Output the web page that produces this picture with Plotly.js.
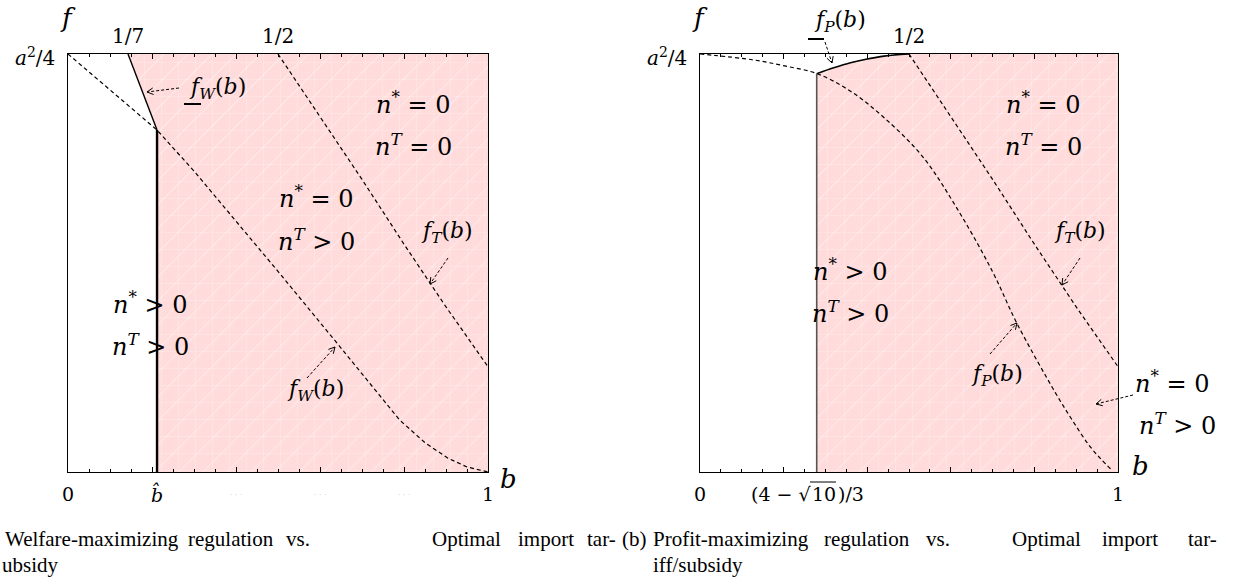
<!DOCTYPE html>
<html>
<head>
<meta charset="utf-8">
<script src="https://cdn.plot.ly/plotly-3.0.1.min.js"></script>
<style>
  html, body { margin: 0; padding: 0; background: #ffffff; }
  #chart { width: 1236px; height: 585px; }
</style>
</head>
<body>
<div id="chart"></div>
<script>
// ---------- panel (a): welfare-maximizing regulation ----------
// threshold b-hat where the regulation boundary meets f_W
const bHat = 0.212;
// lower bound of the regulation region, f_W underbar (from 1/7 at the top down to b-hat)
const fwLowB = [1 / 7, bHat];
const fwLowF = [1, 0.818];
// welfare threshold curve f_W(b)
const fwB = [0, 0.1, 0.212, 0.3, 0.4, 0.5, 0.64, 0.72, 0.79, 0.85, 0.905, 0.95, 1];
const fwF = [1, 0.915, 0.818, 0.72, 0.6, 0.48, 0.309, 0.21, 0.124, 0.07, 0.033, 0.012, 0];
// tariff threshold curve f_T(b) (same in both panels)
const ftB = [0.5, 0.6, 0.7, 0.8, 0.9, 1];
const ftF = [1, 0.85, 0.70, 0.545, 0.395, 0.252];

// ---------- panel (b): profit-maximizing regulation ----------
// threshold (4 - sqrt(10)) / 3
const bZero = 0.2792;
// profit threshold curve f_P(b)
const fpB = [0, 0.127, 0.2, 0.28, 0.36, 0.44, 0.533, 0.62, 0.70, 0.758, 0.85, 0.89, 0.93, 0.96, 0.985];
const fpF = [1, 0.986, 0.972, 0.953, 0.911, 0.848, 0.754, 0.622, 0.479, 0.356, 0.19, 0.125, 0.065, 0.03, 0.005];
// lower bound of the regulation region, f_P underbar (rises to the top at b = 1/2)
const fpLowB = [0.2792, 0.32, 0.36, 0.40, 0.44, 0.48, 0.5];
const fpLowF = [0.953, 0.967, 0.979, 0.988, 0.995, 0.999, 1];

// ---------- text ----------
const topTicksA = [{ b: 1 / 7, t: '1/7' }, { b: 0.5, t: '1/2' }];
const topTicksB = [{ b: 0.5, t: '1/2' }];
const bottomTicksA = [{ b: 0, t: '0' }, { b: bHat, t: '<i>b\u0302</i>' }, { b: 1, t: '1' }];
const bottomTicksB = [{ b: 0, t: '0' }, { b: 1, t: '1' }];
const bZeroLabel = ['(4 \u2212 \u221A', '10', ')/3'];
const captionA1 = ['Welfare-maximizing', 'regulation', 'vs.'];
const captionA1r = ['Optimal', 'import', 'tar-'];
const captionA2 = ['ubsidy'];
const captionB1 = ['(b)', 'Profit-maximizing', 'regulation', 'vs.'];
const captionB1r = ['Optimal', 'import', 'tar-'];
const captionB2 = ['iff/subsidy'];

// ---------- page geometry (pixels) ----------
const W = 1236, H = 585;
const PLOT_TOP = 54, PLOT_BOTTOM = 472;
const A_LEFT = 68, A_RIGHT = 488;
const B_LEFT = 700, B_RIGHT = 1118;
const px = x => x / W;
const py = y => 1 - y / H;
const aX = b => A_LEFT + b * (A_RIGHT - A_LEFT);
const bX = b => B_LEFT + b * (B_RIGHT - B_LEFT);

const PINK = 'rgb(255,219,219)';
const MATH = 'DejaVu Serif, serif';
const SERIF = 'Liberation Serif, Times New Roman, serif';

// ---------- traces ----------
function region(xs, ys, xa, ya) {
  return [
    { x: xs, y: ys, xaxis: xa, yaxis: ya, type: 'scatter', mode: 'lines', fill: 'toself',
      fillcolor: PINK, line: { width: 0 }, hoverinfo: 'skip',
      fillpattern: { shape: '+', bgcolor: PINK, fgcolor: '#ffffff', fgopacity: 0.45, size: 17, solidity: 0.06 } },
    { x: xs, y: ys, xaxis: xa, yaxis: ya, type: 'scatter', mode: 'lines', fill: 'toself',
      fillcolor: 'rgba(0,0,0,0)', line: { width: 0 }, hoverinfo: 'skip',
      fillpattern: { shape: '/', bgcolor: 'rgba(0,0,0,0)', fgcolor: '#ffffff', fgopacity: 0.45, size: 17, solidity: 0.06 } }
  ];
}
const dashed = { color: '#000', width: 1.2, dash: '4px,3px' };

// panel (a) shaded region: right of the f_W underbar and b-hat
const regAx = [fwLowB[0], 1, 1, bHat, bHat, fwLowB[0]];
const regAy = [fwLowF[0], 1, 0, 0, fwLowF[1], fwLowF[0]];
// panel (b) shaded region: right of (4 - sqrt 10)/3 and below the f_P underbar
const regBx = [bZero].concat(fpLowB, [1, 1, bZero]);
const regBy = [0].concat(fpLowF, [1, 0, 0]);

const traces = [].concat(
  region(regAx, regAy, 'x', 'y'),
  region(regBx, regBy, 'x2', 'y2'),
  [
    { x: fwB, y: fwF, xaxis: 'x', yaxis: 'y', mode: 'lines', line: dashed, hoverinfo: 'skip' },
    { x: ftB, y: ftF, xaxis: 'x', yaxis: 'y', mode: 'lines', line: dashed, hoverinfo: 'skip' },
    { x: fwLowB, y: fwLowF, xaxis: 'x', yaxis: 'y', mode: 'lines', line: { color: '#000', width: 1.4 }, hoverinfo: 'skip' },
    { x: [bHat, bHat], y: [0, fwLowF[1]], xaxis: 'x', yaxis: 'y', mode: 'lines', line: { color: '#000', width: 2.4 }, hoverinfo: 'skip' },

    { x: fpB, y: fpF, xaxis: 'x2', yaxis: 'y2', mode: 'lines', line: Object.assign({ shape: 'spline' }, dashed), hoverinfo: 'skip' },
    { x: ftB, y: ftF, xaxis: 'x2', yaxis: 'y2', mode: 'lines', line: dashed, hoverinfo: 'skip' },
    { x: fpLowB, y: fpLowF, xaxis: 'x2', yaxis: 'y2', mode: 'lines', line: { color: '#000', width: 1.6, shape: 'spline' }, hoverinfo: 'skip' },
    { x: [bZero, bZero], y: [0, fpLowF[0]], xaxis: 'x2', yaxis: 'y2', mode: 'lines', line: { color: '#555', width: 1.6 }, hoverinfo: 'skip' }
  ]
);

// ---------- annotations and shapes ----------
const annotations = [];
const shapes = [];

function label(x, y, text, size, font, anchor, color, tight) {
  const a = {
    xref: 'paper', yref: 'paper', x: px(x), y: py(y), text: text,
    showarrow: false, xanchor: anchor || 'center', yanchor: 'middle',
    font: { family: font || MATH, size: size || 24, color: color || '#000' }
  };
  if (tight) { a.borderpad = 0; a.borderwidth = 0; }
  annotations.push(a);
}
// dashed pointer with an open arrowhead at (x2, y2)
function pointer(x1, y1, x2, y2) {
  shapes.push({ type: 'line', xref: 'paper', yref: 'paper', x0: px(x1), y0: py(y1), x1: px(x2), y1: py(y2),
    line: { color: '#000', width: 1, dash: '3px,2px' } });
  const len = Math.hypot(x2 - x1, y2 - y1);
  const dx = (x2 - x1) / len, dy = (y2 - y1) / len;
  const a = 28 * Math.PI / 180, L = 7;
  const h1 = [x2 - L * (dx * Math.cos(a) - dy * Math.sin(a)), y2 - L * (dy * Math.cos(a) + dx * Math.sin(a))];
  const h2 = [x2 - L * (dx * Math.cos(a) + dy * Math.sin(a)), y2 - L * (dy * Math.cos(a) - dx * Math.sin(a))];
  shapes.push({ type: 'path', xref: 'paper', yref: 'paper',
    path: `M${px(h1[0])},${py(h1[1])} L${px(x2)},${py(y2)} L${px(h2[0])},${py(h2[1])}`,
    line: { color: '#000', width: 1 } });
}
function hline(x0, x1, y, w) {
  shapes.push({ type: 'line', xref: 'paper', yref: 'paper', x0: px(x0), y0: py(y), x1: px(x1), y1: py(y),
    line: { color: '#000', width: w || 2 } });
}

const nStarEq = '<i>n</i><sup>*</sup> = 0';
const nStarGt = '<i>n</i><sup>*</sup> > 0';
const nTEq = '<i>n<sup>T</sup></i> = 0';
const nTGt = '<i>n<sup>T</sup></i> > 0';
const fLabel = s => `<i>f<sub>${s}</sub></i>(<i>b</i>)`;

// panel (a) text
label(68, 18, '<i>f</i>', 26);
label(35, 57, '<i>a</i><sup>2</sup>/4', 20);
topTicksA.forEach(t => label(aX(t.b), 36, t.t, 20));
bottomTicksA.forEach(t => label(aX(t.b), 494, t.t, 19));
label(508, 479, '<i>b</i>', 26);
label(413, 103, nStarEq);
label(413, 145, nTEq);
label(316, 197, nStarEq);
label(316, 240, nTGt);
label(150, 303, nStarGt);
label(150, 345, nTGt);
label(217, 88, fLabel('W'), 22);
hline(184, 201, 104);
pointer(179, 88, 147, 92);
label(447, 233, fLabel('T'), 22);
pointer(448, 258, 430, 284);
label(315, 390, fLabel('W'), 22);
pointer(307, 378, 335, 347);
// faint leftover marks under the bottom axis
[0.4, 0.6, 0.8].forEach(b => label(aX(b), 494, '\u00B7 \u00B7 \u00B7', 8, MATH, 'center', '#c8c8c8'));

// panel (b) text
label(700, 18, '<i>f</i>', 26);
label(667, 57, '<i>a</i><sup>2</sup>/4', 20);
topTicksB.forEach(t => label(bX(t.b), 36, t.t, 20));
bottomTicksB.forEach(t => label(bX(t.b), 494, t.t, 19));
// (4 - sqrt 10)/3 with the radical bar drawn over "10"
label(812, 494, bZeroLabel[0], 19, MATH, 'right', '#000', true);
label(812, 494, bZeroLabel[1], 19, MATH, 'left', '#000', true);
label(838, 494, bZeroLabel[2], 19, MATH, 'left', '#000', true);
hline(810, 836, 482, 1);
label(1140, 466, '<i>b</i>', 26);
label(1043, 103, nStarEq);
label(1043, 145, nTEq);
label(850, 270, nStarGt);
label(850, 312, nTGt);
label(1080, 233, fLabel('T'), 22);
pointer(1080, 258, 1062, 285);
label(997, 375, fLabel('P'), 22);
pointer(990, 354, 1017, 323);
label(840, 22, fLabel('P'), 22);
hline(808, 824, 39);
pointer(825, 42, 832, 63);
label(1172, 382, nStarEq);
label(1177, 424, nTGt);
pointer(1133, 395, 1096, 404);

// captions (justified lines: left-anchored words, then right-anchored words)
const CAP = 21;
const capA1x = [3, 186, 284];
const capA1r = [503, 576, 618];
const capB1x = [620, 651, 822, 924];
const capB1r = [1083, 1160, 1219];
captionA1.forEach((w, i) => label(capA1x[i], 539, w, CAP, SERIF, 'left'));
captionA1r.forEach((w, i) => label(capA1r[i], 539, w, CAP, SERIF, 'right'));
captionA2.forEach(w => label(0, 565, w, CAP, SERIF, 'left'));
captionB1.forEach((w, i) => label(capB1x[i], 539, w, CAP, SERIF, 'left'));
captionB1r.forEach((w, i) => label(capB1r[i], 539, w, CAP, SERIF, 'right'));
captionB2.forEach(w => label(651, 565, w, CAP, SERIF, 'left'));

// ---------- axes ----------
function xAxis(domain, anchor) {
  return {
    domain: domain, range: [0, 1], anchor: anchor, fixedrange: true,
    showgrid: false, zeroline: false, showline: true, linecolor: '#000', linewidth: 1.3,
    mirror: 'allticks', ticks: 'inside', ticklen: 5, tickcolor: '#000', tickwidth: 1,
    dtick: 0.2, tick0: 0, showticklabels: false,
    minor: { dtick: 0.05, tick0: 0, ticks: 'inside', ticklen: 3, tickcolor: '#000', tickwidth: 1, showgrid: false }
  };
}
function yAxis(anchor) {
  return {
    domain: [py(PLOT_BOTTOM), py(PLOT_TOP)], range: [0, 1], anchor: anchor, fixedrange: true,
    showgrid: false, zeroline: false, showline: true, linecolor: '#000', linewidth: 1.3,
    mirror: true, ticks: '', showticklabels: false
  };
}

const layout = {
  width: W, height: H,
  margin: { l: 0, r: 0, t: 0, b: 0 },
  paper_bgcolor: '#ffffff', plot_bgcolor: 'rgba(0,0,0,0)',
  showlegend: false,
  xaxis: xAxis([px(A_LEFT), px(A_RIGHT)], 'y'),
  yaxis: yAxis('x'),
  xaxis2: xAxis([px(B_LEFT), px(B_RIGHT)], 'y2'),
  yaxis2: yAxis('x2'),
  annotations: annotations,
  shapes: shapes
};

Plotly.newPlot('chart', traces, layout, { staticPlot: true, displayModeBar: false });
</script>
</body>
</html>
